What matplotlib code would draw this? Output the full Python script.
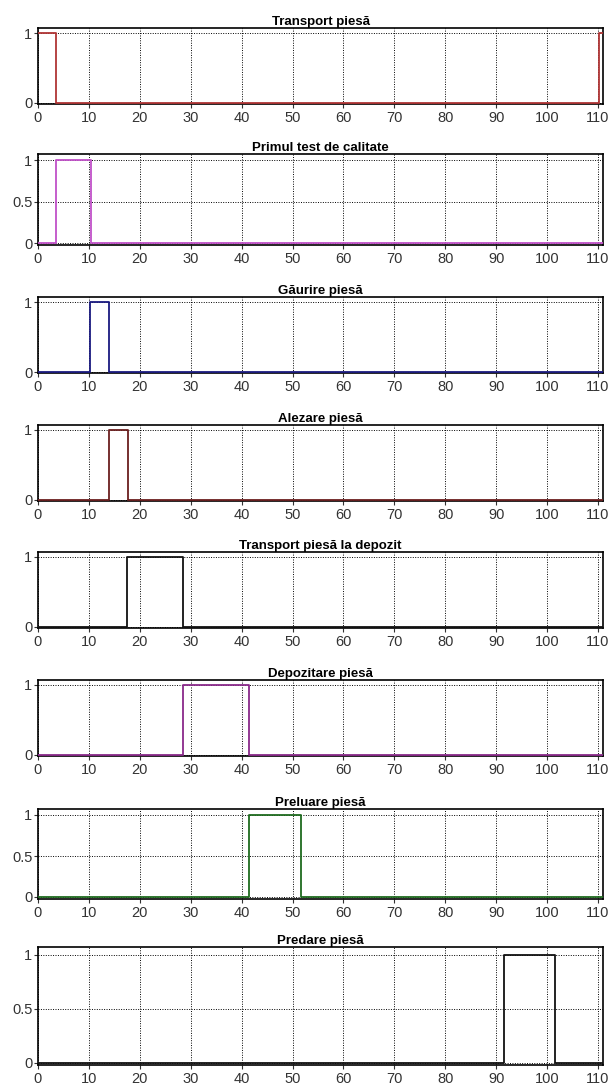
import matplotlib
matplotlib.use("Agg")
import matplotlib.pyplot as plt

plt.rcParams['font.family'] = ['Liberation Sans', 'DejaVu Sans']

# activity names, in order
titles = ["Transport piesă", "Primul test de calitate", "Găurire piesă",
          "Alezare piesă", "Transport piesă la depozit", "Depozitare piesă",
          "Preluare piesă", "Predare piesă"]

# step points (time, state) for every activity
t_transport = [0, 3.5, 110.3, 111]
v_transport = [1, 0, 1, 1]
t_test = [0, 3.5, 10.5, 111]
v_test = [0, 1, 0, 0]
t_gaurire = [0, 10.3, 14, 111]
v_gaurire = [0, 1, 0, 0]
t_alezare = [0, 14, 17.6, 111]
v_alezare = [0, 1, 0, 0]
t_depozit = [0, 17.5, 28.5, 111]
v_depozit = [0, 1, 0, 0]
t_depozitare = [0, 28.5, 41.5, 111]
v_depozitare = [0, 1, 0, 0]
t_preluare = [0, 41.5, 51.6, 111]
v_preluare = [0, 1, 0, 0]
t_predare = [0, 91.5, 101.6, 111]
v_predare = [0, 1, 0, 0]

series = [(t_transport, v_transport), (t_test, v_test), (t_gaurire, v_gaurire),
          (t_alezare, v_alezare), (t_depozit, v_depozit),
          (t_depozitare, v_depozitare), (t_preluare, v_preluare),
          (t_predare, v_predare)]

colors = ["#b03535", "#c050c8", "#1a1a80", "#6b1f1f", "#111111",
          "#8a2a8a", "#1f6b1f", "#111111"]
yticks_half = [False, True, False, False, False, False, True, True]
xticks = list(range(0, 111, 10))

# panel placement in pixels: (y of value 1, y of value 0)
rows = [(33, 103), (160, 243), (302, 372), (430, 500),
        (557, 627), (685, 755), (815, 897), (955, 1063)]

W, H = 608, 1086
fig = plt.figure(figsize=(W / 100, H / 100), dpi=100)
ylo, yhi = -0.02, 1.07
left, right = 38, 603

for i, (title, (t, v)) in enumerate(zip(titles, series)):
    y1, y0 = rows[i]
    span = y0 - y1
    top = y1 - (yhi - 1) * span
    bottom = y0 - ylo * span
    ax = fig.add_axes([left / W, 1 - bottom / H, (right - left) / W,
                       (bottom - top) / H])
    ax.step(t, v, where="post", color=colors[i], linewidth=1.3, zorder=3)
    ax.set_xlim(0, 111)
    ax.set_ylim(ylo, yhi)
    ax.set_xticks(xticks)
    ax.set_yticks([0, 0.5, 1] if yticks_half[i] else [0, 1])
    ax.set_yticklabels(["0", "0.5", "1"] if yticks_half[i] else ["0", "1"])
    ax.grid(True, color="black", linestyle=(0, (1, 1.5)), linewidth=0.7)
    ax.tick_params(direction="out", length=3, width=0.8, labelsize=10.5,
                   colors="#333333", pad=1)
    ax.tick_params(axis="x", pad=2)
    for s in ax.spines.values():
        s.set_linewidth(1.2)
    ax.set_title(title, fontsize=9.5, fontweight="bold", pad=2)

fig.savefig("out.png", dpi=100, facecolor="white")
